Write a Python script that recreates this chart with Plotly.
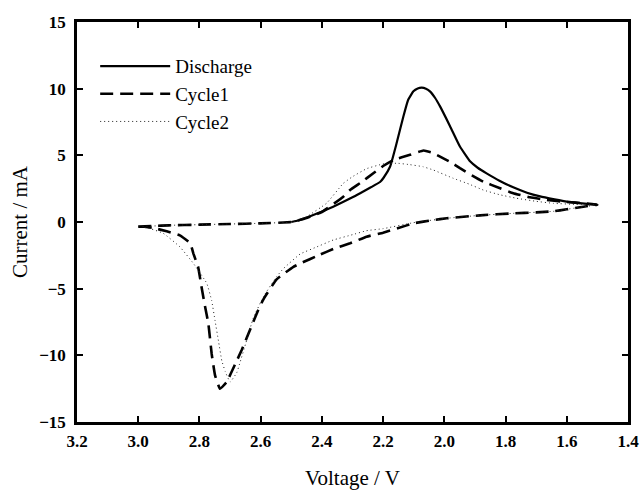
import plotly.graph_objects as go

# Discharge (solid)
dis_v = [2.50, 2.471, 2.42, 2.363, 2.30, 2.275, 2.24, 2.21, 2.199, 2.177, 2.156, 2.134, 2.118,
         2.101, 2.087, 2.074, 2.06, 2.047, 2.03, 2.014, 1.981, 1.949, 1.916, 1.89, 1.862, 1.82,
         1.775, 1.73, 1.687, 1.64, 1.60, 1.55, 1.50]
dis_i = [0.0, 0.15, 0.6, 1.15, 1.85, 2.16, 2.6, 3.0, 3.3, 4.16, 5.9, 7.9, 9.17,
         9.8, 10.02, 10.08, 10.0, 9.8, 9.3, 8.67, 7.17, 5.66, 4.55, 4.05, 3.65, 3.1,
         2.6, 2.2, 1.92, 1.7, 1.53, 1.4, 1.28]

# Cycle1 (dashed)
c1_v = [3.00, 2.95, 2.90, 2.80, 2.70, 2.60, 2.50, 2.45, 2.40, 2.33, 2.308, 2.27, 2.232, 2.20,
        2.166, 2.112, 2.068, 2.04, 2.014, 1.98, 1.949, 1.91, 1.873, 1.82, 1.775, 1.72,
        1.666, 1.60, 1.546, 1.50,
        1.546, 1.60, 1.644, 1.70, 1.775, 1.883, 1.992, 2.036, 2.101, 2.15, 2.20, 2.254,
        2.308, 2.36, 2.406, 2.47, 2.493, 2.548, 2.591, 2.608, 2.635, 2.662, 2.684, 2.711, 2.733,
        2.749, 2.76, 2.771, 2.782, 2.793, 2.804, 2.82, 2.83, 2.864, 2.907, 2.95, 2.98]
c1_i = [-0.35, -0.3, -0.25, -0.2, -0.15, -0.1, 0.0, 0.3, 0.75, 1.9, 2.4, 3.0, 3.66, 4.2,
        4.66, 5.04, 5.36, 5.2, 4.9, 4.5, 4.04, 3.5, 3.03, 2.55, 2.16, 1.85,
        1.65, 1.5, 1.4, 1.3,
        1.15, 0.95, 0.8, 0.72, 0.65, 0.5, 0.28, 0.15, -0.1, -0.45, -0.8, -1.1,
        -1.6, -2.0, -2.45, -3.1, -3.36, -4.3, -5.8, -6.6, -8.1, -9.6, -10.7, -12.0, -12.5,
        -11.5, -9.9, -7.6, -6.3, -4.9, -3.4, -2.35, -1.6, -1.0, -0.7, -0.45, -0.35]

# Cycle2 (dotted)
c2_v = [3.00, 2.90, 2.80, 2.70, 2.60, 2.50, 2.45, 2.385, 2.33, 2.30, 2.254, 2.21, 2.188,
        2.15, 2.112, 2.07, 2.036, 1.971, 1.92, 1.873, 1.82, 1.764, 1.70, 1.644, 1.57, 1.50,
        1.546, 1.644, 1.775, 1.883, 1.992, 2.101, 2.20, 2.254, 2.30, 2.363, 2.42, 2.471,
        2.526, 2.548, 2.591, 2.624, 2.65, 2.667, 2.678, 2.70, 2.716, 2.727, 2.738, 2.749,
        2.76, 2.776, 2.82, 2.864, 2.918, 2.96, 2.98]
c2_i = [-0.35, -0.25, -0.2, -0.15, -0.1, 0.0, 0.4, 1.4, 2.9, 3.4, 4.0, 4.3, 4.4,
        4.4, 4.3, 4.15, 3.9, 3.28, 2.85, 2.4, 2.05, 1.78, 1.55, 1.4, 1.32, 1.28,
        1.15, 0.8, 0.65, 0.5, 0.28, -0.05, -0.5, -0.65, -0.95, -1.35, -1.9, -2.4,
        -3.5, -4.1, -5.6, -7.2, -9.2, -10.5, -11.3, -12.0, -11.2, -10.4, -8.9, -7.4,
        -5.9, -4.6, -3.1, -1.86, -0.85, -0.5, -0.4]

x_ticks = [3.2, 3.0, 2.8, 2.6, 2.4, 2.2, 2.0, 1.8, 1.6, 1.4]
x_ticktext = ["3.2", "3.0", "2.8", "2.6", "2.4", "2.2", "2.0", "1.8", "1.6", "1.4"]
y_ticks = [-15, -10, -5, 0, 5, 10, 15]

serif = "Liberation Serif"

fig = go.Figure()
fig.add_trace(go.Scatter(x=dis_v, y=dis_i, mode="lines", name="Discharge",
                         line=dict(color="black", width=2.2, shape="spline", smoothing=0.4)))
fig.add_trace(go.Scatter(x=c1_v, y=c1_i, mode="lines", name="Cycle1",
                         line=dict(color="black", width=2.6, dash="13px,7px", shape="spline", smoothing=0.3)))
fig.add_trace(go.Scatter(x=c2_v, y=c2_i, mode="lines", name="Cycle2",
                         line=dict(color="#222222", width=1, dash="1px,3px", shape="spline", smoothing=0.3)))

fig.update_layout(
    width=640, height=490,
    margin=dict(l=77, r=12, t=22, b=68),
    paper_bgcolor="white", plot_bgcolor="white",
    font=dict(family=serif, color="black"),
    showlegend=True,
    legend=dict(x=0.033, y=0.937, xanchor="left", yanchor="top",
                bgcolor="rgba(0,0,0,0)", font=dict(family=serif, size=19),
                itemwidth=70, tracegroupgap=0),
)
fig.update_xaxes(
    range=[3.2, 1.4], tickvals=x_ticks, ticktext=x_ticktext, automargin=False,
    showline=True, linecolor="black", linewidth=2.5, mirror="ticks",
    ticks="inside", ticklen=6, tickwidth=2, tickcolor="black",
    showgrid=False, zeroline=False,
    tickfont=dict(family=serif, size=17, weight="bold"),
    ticklabelstandoff=2,
    title=dict(text="Voltage / V", font=dict(family=serif, size=21), standoff=22),
)
fig.update_yaxes(
    range=[-15, 15], tickvals=y_ticks, automargin=False,
    showline=True, linecolor="black", linewidth=2.5, mirror="ticks",
    ticks="inside", ticklen=6, tickwidth=2, tickcolor="black",
    showgrid=False, zeroline=False,
    tickfont=dict(family=serif, size=17, weight="bold"),
    ticklabelstandoff=5,
    title=dict(text="Current / mA", font=dict(family=serif, size=21), standoff=6),
)

fig.write_html("out.html", config={"displayModeBar": False},
               post_script="document.body.style.margin='0px';document.body.style.overflow='hidden';")
